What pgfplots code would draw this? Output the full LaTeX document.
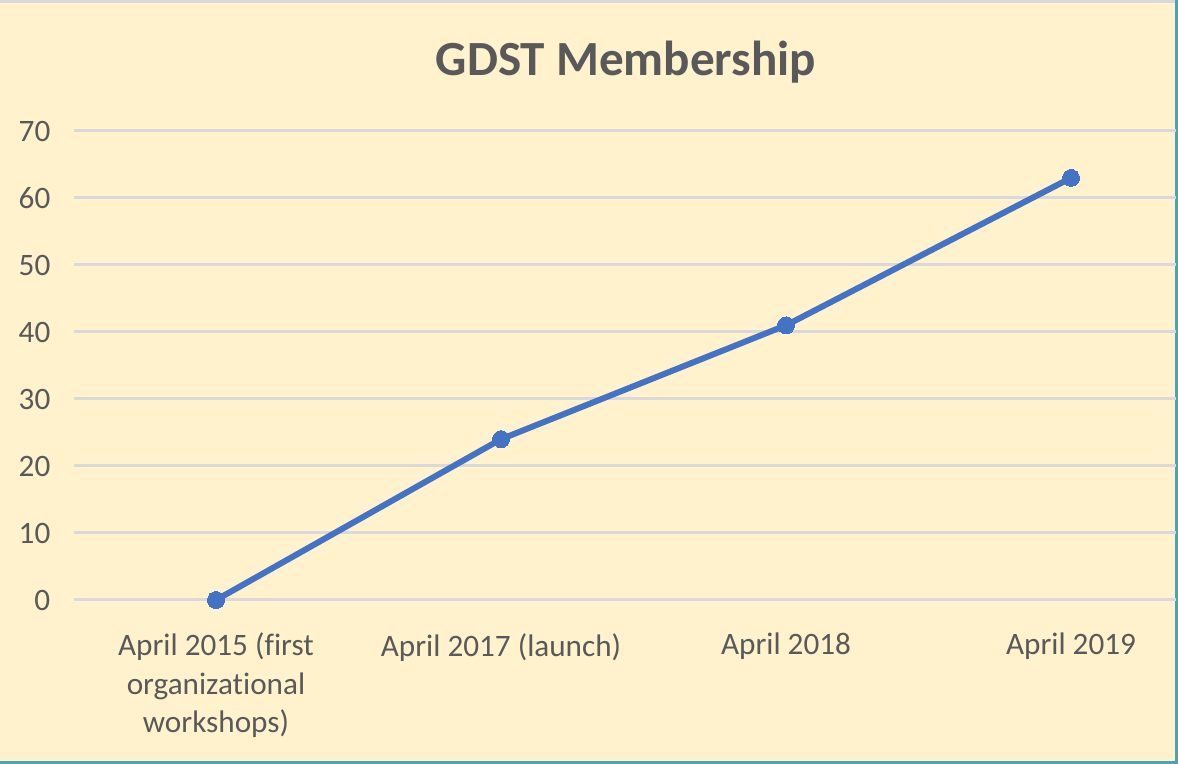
\documentclass[border=0pt]{standalone}
\usepackage{pgfplots}
\pgfplotsset{compat=1.18}
\usepackage{fontspec}
\setmainfont[Ligatures={NoCommon}]{Carlito}
\definecolor{bgc}{HTML}{FFF2CC}
\definecolor{gridc}{HTML}{D9D9D9}
\definecolor{txtc}{HTML}{595959}
\definecolor{linec}{HTML}{4472C4}
\definecolor{framec}{HTML}{4AA3B5}
\begin{document}
\begin{tikzpicture}[x=1bp,y=1bp]
\useasboundingbox (0,0) rectangle (1178,764);
\fill[bgc] (0,0) rectangle (1178,764);
\fill[gridc] (0,761) rectangle (1178,764);
\fill[framec] (1175,0) rectangle (1178,764);
\fill[framec] (0,0) rectangle (1178,2.5);
\node[font=\fontsize{49.3}{58}\selectfont\bfseries, text=txtc] at (626,702) {GDST Membership};
\begin{axis}[
  at={(73.5bp,164bp)}, anchor=south west,
  scale only axis, width=1102.95bp, height=469bp,
  xmin=-0.5, xmax=3.37, ymin=0, ymax=70,
  clip=false,
  axis line style={draw=none},
  tick style={draw=none},
  ytick={0,10,...,70},
  xtick={0,1,2,3},
  xticklabels={{April 2015 (first\\organizational\\workshops)},{April 2017 (launch)},{April 2018},{April 2019}},
  ymajorgrids,
  grid style={gridc, line width=3bp},
  every tick label/.append style={font=\fontsize{31.3}{38.5}\selectfont, text=txtc},
  /pgf/number format/assume math mode=true,
  yticklabel style={anchor=east, inner sep=0pt, xshift=-23bp},
  xticklabel style={anchor=north, inner sep=0pt, yshift=-33bp, align=center},
]
\addplot[linec, line width=6bp, line cap=round, line join=round, mark=*, mark size=8.5bp, mark options={fill=linec, draw=linec, line width=0pt}] coordinates {(0,0) (1,24) (2,41) (3,63)};
\end{axis}
\end{tikzpicture}
\end{document}
